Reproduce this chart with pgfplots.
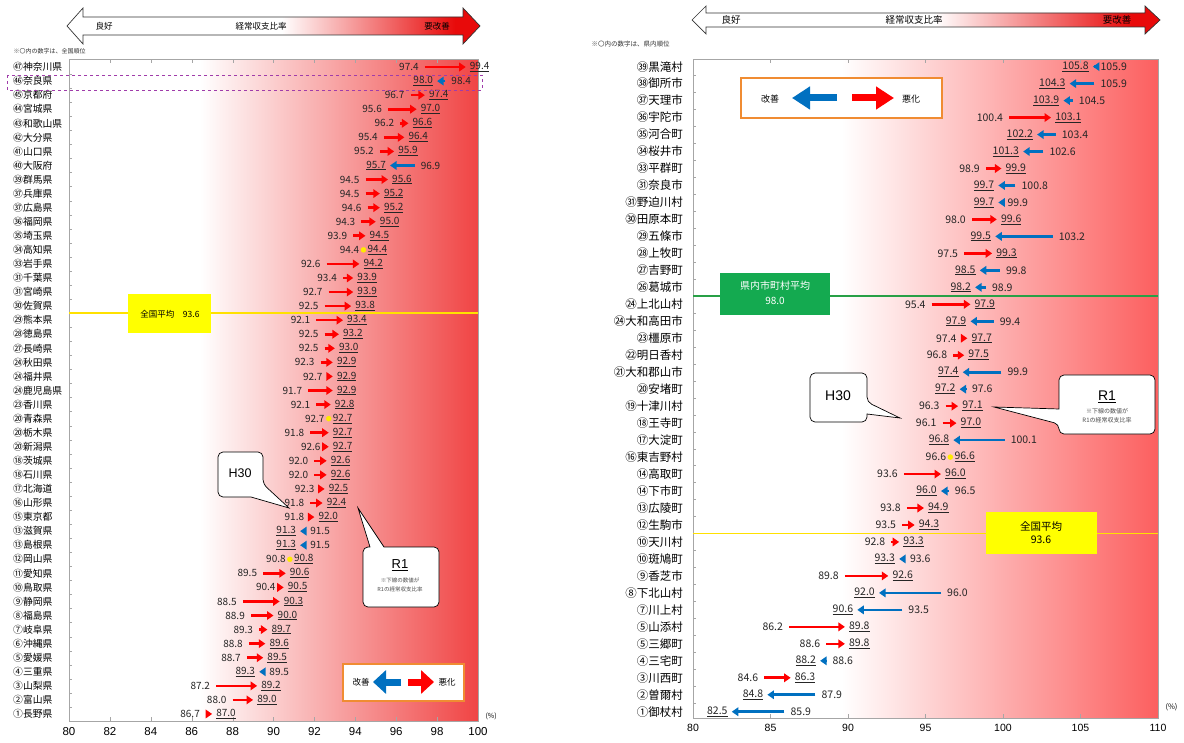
\documentclass[border=0pt]{standalone}
\usepackage{fontspec}
\setmainfont{Noto Sans CJK JP}
\newfontfamily\arial{Liberation Sans}
\usepackage{pgfplots}
\pgfplotsset{compat=1.18}
\usepackage{pgfplotstable}
\usetikzlibrary{arrows.meta}

\definecolor{arrred}{RGB}{255,0,0}
\definecolor{arrblue}{RGB}{0,112,192}
\definecolor{bgredL}{RGB}{240,68,68}
\definecolor{bgredR}{RGB}{252,95,95}
\definecolor{hdrred}{RGB}{232,10,10}
\definecolor{legorange}{RGB}{240,140,50}
\definecolor{avgyellow}{RGB}{255,255,0}
\definecolor{avgline}{RGB}{255,225,0}
\definecolor{avggreen}{RGB}{20,170,80}
\definecolor{avggreenline}{RGB}{40,160,70}
\definecolor{dotyellow}{RGB}{255,235,0}
\definecolor{dashviolet}{RGB}{160,60,170}

\pgfdeclarehorizontalshading{bgL}{100bp}{color(0bp)=(white); color(41bp)=(white); color(75bp)=(bgredL); color(100bp)=(bgredL)}
\pgfdeclarehorizontalshading{bgR}{100bp}{color(0bp)=(white); color(41bp)=(white); color(75bp)=(bgredR); color(100bp)=(bgredR)}
\pgfdeclarehorizontalshading{hdr}{100bp}{color(0bp)=(white); color(51bp)=(white); color(72bp)=(hdrred); color(100bp)=(hdrred)}

\newcommand\fs[1]{\fontsize{#1}{#1}\selectfont}

% ---------- left panel (prefectures), row 1 = top ----------
\pgfplotstableread{
y h30 r1
1 97.4 99.4
3 96.7 97.4
4 95.6 97.0
5 96.2 96.6
6 95.4 96.4
7 95.2 95.9
9 94.5 95.6
10 94.5 95.2
11 94.6 95.2
12 94.3 95.0
13 93.9 94.5
15 92.6 94.2
16 93.4 93.9
17 92.7 93.9
18 92.5 93.8
19 92.1 93.4
20 92.5 93.2
21 92.5 93.0
22 92.3 92.9
23 92.7 92.9
24 91.7 92.9
25 92.1 92.8
27 91.8 92.7
28 92.6 92.7
29 92.0 92.6
30 92.0 92.6
31 92.3 92.5
32 91.8 92.4
33 91.8 92.0
37 89.5 90.6
38 90.4 90.5
39 88.5 90.3
40 88.9 90.0
41 89.3 89.7
42 88.8 89.6
43 88.7 89.5
45 87.2 89.2
46 88.0 89.0
47 86.7 87.0
}\upL
\pgfplotstableread{
y h30 r1
2 98.4 98.0
8 96.9 95.7
34 91.5 91.3
35 91.5 91.3
44 89.5 89.3
}\dnL
\pgfplotstableread{
y h30 r1
14 94.4 94.4
26 92.7 92.7
36 90.8 90.8
}\eqL

% ---------- right panel (municipalities) ----------
\pgfplotstableread{
y h30 r1
4 100.4 103.1
7 98.9 99.9
10 98.0 99.6
12 97.5 99.3
15 95.4 97.9
17 97.4 97.7
18 96.8 97.5
21 96.3 97.1
22 96.1 97.0
25 93.6 96.0
27 93.8 94.9
28 93.5 94.3
29 92.8 93.3
31 89.8 92.6
34 86.2 89.8
35 88.6 89.8
37 84.6 86.3
}\upR
\pgfplotstableread{
y h30 r1
1 105.9 105.8
2 105.9 104.3
3 104.5 103.9
5 103.4 102.2
6 102.6 101.3
8 100.8 99.7
9 99.9 99.7
11 103.2 99.5
13 99.8 98.5
14 98.9 98.2
16 99.4 97.9
19 99.9 97.4
20 97.6 97.2
23 100.1 96.8
26 96.5 96.0
30 93.6 93.3
32 96.0 92.0
33 93.5 90.6
36 88.6 88.2
38 87.9 84.8
39 85.9 82.5
}\dnR
\pgfplotstableread{
y h30 r1
24 96.6 96.6
}\eqR

\pgfplotsset{
  /pgf/number format/assume math mode=true,
  upq/.style={draw=arrred, line width=2.6pt, -{Triangle[length=6.5pt,width=8.5pt]}, no markers,
     quiver={u=\thisrow{r1}-\thisrow{h30}, v=0}},
  dnq/.style={draw=arrblue, line width=2.6pt, -{Triangle[length=6.5pt,width=8.5pt]}, no markers,
     quiver={u=\thisrow{r1}-\thisrow{h30}, v=0}},
  lab/.style={draw=none, no markers, point meta=x,
     nodes near coords={\pgfmathprintnumber[fixed,fixed zerofill,precision=1]{\pgfplotspointmeta}}},
  labu/.style={draw=none, no markers, point meta=x,
     nodes near coords={\underline{\pgfmathprintnumber[fixed,fixed zerofill,precision=1]{\pgfplotspointmeta}}}},
  toE/.style={every node near coord/.append style={anchor=east, xshift=-#1}},
  toW/.style={every node near coord/.append style={anchor=west, xshift=#1}},
  eqdot/.style={only marks, mark=*, mark size=2.5pt, draw=dotyellow, fill=dotyellow,
     mark options={draw=dotyellow, fill=dotyellow}},
  panel/.style={scale only axis, clip=false, y dir=reverse,
     axis line style={draw=gray!70, line width=0.8pt},
     tick align=inside, major tick length=4pt, minor tick length=3pt,
     major x tick style={gray!70},
     major y tick style={draw=none},
     minor y tick style={gray!70},
     ytick pos=left,
  },
}

\begin{document}
\begin{tikzpicture}
\path[use as bounding box] (0pt,0pt) rectangle (1184pt,-743pt);

% ================= LEFT AXIS =================
\begin{axis}[panel,
  at={(273.5pt,-390pt)}, anchor=center,
  width=409pt, height=662pt,
  axis background/.style={shade, shading=bgL},
  xmin=80, xmax=100, xtick={80,82,...,100},
  ymin=0.43, ymax=47.5,
  ytick={1,...,47},
  minor ytick={1.5,2.5,...,46.5},
  yticklabels={㊼神奈川県,㊻奈良県,㊺京都府,㊹宮城県,㊸和歌山県,㊷大分県,㊶山口県,㊵大阪府,㊴群馬県,㊲兵庫県,㊲広島県,㊱福岡県,㉟埼玉県,㉞高知県,㉝岩手県,㉛千葉県,㉛宮崎県,㉚佐賀県,㉙熊本県,㉘徳島県,㉗長崎県,㉔秋田県,㉔福井県,㉔鹿児島県,㉓香川県,⑳青森県,⑳栃木県,⑳新潟県,⑱茨城県,⑱石川県,⑰北海道,⑯山形県,⑮東京都,⑬滋賀県,⑬島根県,⑫岡山県,⑪愛知県,⑩鳥取県,⑨静岡県,⑧福島県,⑦岐阜県,⑥沖縄県,⑤愛媛県,④三重県,③山梨県,②富山県,①長野県},
  yticklabel style={font=\fs{9.8}, anchor=west, inner sep=0pt, xshift=-56pt},
  xticklabel style={font=\arial\fs{11.5}, yshift=-3pt},
  nodes near coords style={font=\fs{10}, inner sep=0pt, text=black!85},
]
\addplot[draw=avgline, line width=1.6pt, no markers] coordinates {(80,18.5) (100,18.5)};
\addplot[upq] table[x=h30, y=y] {\upL};
\addplot[dnq] table[x=h30, y=y] {\dnL};
\addplot[eqdot] table[x=h30, y=y] {\eqL};
\addplot[lab, toE=6pt] table[x=h30, y=y] {\upL};
\addplot[labu, toW=4pt] table[x=r1, y=y] {\upL};
\addplot[labu, toE=4pt] table[x=r1, y=y] {\dnL};
\addplot[lab, toW=6pt] table[x=h30, y=y] {\dnL};
\addplot[lab, toE=4pt] table[x=h30, y=y] {\eqL};
\addplot[labu, toW=4pt] table[x=r1, y=y] {\eqL};
\end{axis}

% ================= RIGHT AXIS =================
\begin{axis}[panel,
  at={(925.5pt,-388.5pt)}, anchor=center,
  width=465pt, height=659pt,
  axis background/.style={shade, shading=bgR},
  xmin=80, xmax=110, xtick={80,85,...,110},
  ymin=0.55, ymax=39.37,
  ytick={1,...,39},
  minor ytick={1.5,2.5,...,38.5},
  yticklabels={㊴黒滝村,㊳御所市,㊲天理市,㊱宇陀市,㉟河合町,㉞桜井市,㉝平群町,㉛奈良市,㉛野迫川村,㉚田原本町,㉙五條市,㉘上牧町,㉗吉野町,㉖葛城市,㉔上北山村,㉔大和高田市,㉓橿原市,㉒明日香村,㉑大和郡山市,⑳安堵町,⑲十津川村,⑱王寺町,⑰大淀町,⑯東吉野村,⑭高取町,⑭下市町,⑬広陵町,⑫生駒市,⑩天川村,⑩斑鳩町,⑨香芝市,⑧下北山村,⑦川上村,⑤山添村,⑤三郷町,④三宅町,③川西町,②曽爾村,①御杖村},
  yticklabel style={font=\fs{11.5}, anchor=east, inner sep=0pt, xshift=-10pt},
  xticklabel style={font=\arial\fs{10.5}, yshift=-3pt},
  nodes near coords style={font=\fs{10.5}, inner sep=0pt, text=black!85},
]
\addplot[draw=avggreenline, line width=1.6pt, no markers] coordinates {(80,14.5) (110,14.5)};
\addplot[draw=avgline, line width=1.8pt, no markers] coordinates {(80,28.5) (110,28.5)};
\addplot[upq] table[x=h30, y=y] {\upR};
\addplot[dnq] table[x=h30, y=y] {\dnR};
\addplot[eqdot] table[x=h30, y=y] {\eqR};
\addplot[lab, toE=6pt] table[x=h30, y=y] {\upR};
\addplot[labu, toW=4pt] table[x=r1, y=y] {\upR};
\addplot[labu, toE=4pt] table[x=r1, y=y] {\dnR};
\addplot[lab, toW=6pt] table[x=h30, y=y] {\dnR};
\addplot[lab, toE=4pt] table[x=h30, y=y] {\eqR};
\addplot[labu, toW=4pt] table[x=r1, y=y] {\eqR};
\end{axis}

% ================= annotations (pixel coordinates) =================
\begin{scope}[x=1pt, y=-1pt]
% header arrows
\shadedraw[shading=hdr, draw=black!80, line width=0.7pt]
  (67,26) -- (83,8) -- (83,17) -- (463,17) -- (463,8) -- (480,26) -- (463,44) -- (463,35) -- (83,35) -- (83,44) -- cycle;
\node[font=\fs{8.5}] at (104,26) {良好};
\node[font=\fs{8.5}] at (261,26) {経常収支比率};
\node[font=\fs{8.5}] at (437,26) {要改善};
\node[font=\fs{6}, anchor=west, text=black!80] at (10,51) {※〇内の数字は、全国順位};

\shadedraw[shading=hdr, draw=black!80, line width=0.7pt]
  (692,20) -- (706,6) -- (706,13) -- (1145,13) -- (1145,6) -- (1160,20) -- (1145,34) -- (1145,27) -- (706,27) -- (706,34) -- cycle;
\node[font=\fs{9.5}] at (731,20) {良好};
\node[font=\fs{9.5}] at (914,20) {経常収支比率};
\node[font=\fs{9.5}] at (1117,20) {要改善};
\node[font=\fs{6.5}, anchor=west, text=black!80] at (588,44) {※〇内の数字は、県内順位};

% dashed highlight of Nara prefecture
\draw[dashviolet, dashed, line width=0.8pt] (7,75) rectangle (482,90);

% national / prefectural averages
\fill[avgyellow] (128,294) rectangle (211,333);
\node[font=\fs{8.5}] at (170,314) {全国平均\quad 93.6};
\fill[avggreen] (720,273) rectangle (830,315);
\node[font=\fs{10}, text=white] at (775,286) {県内市町村平均};
\node[font=\fs{10}, text=white] at (775,301) {98.0};
\fill[avgyellow] (986,512) rectangle (1097,554);
\node[font=\fs{10.5}] at (1041,527) {全国平均};
\node[font=\fs{10.5}] at (1041,540) {93.6};

% callouts left
\draw[fill=white, line width=0.7pt, rounded corners=5pt]
  (218,452) -- (263,452) -- (263,484) [sharp corners] -- (289,508) -- (251,497) [rounded corners=5pt] -- (218,497) -- cycle;
\node[font=\arial\fs{12.5}] at (240,473) {H30};
\draw[fill=white, line width=0.7pt, rounded corners=5pt]
  (363,547) [sharp corners] -- (370,547) -- (358,508) -- (384,547) [rounded corners=5pt] -- (439,547) -- (439,607) -- (363,607) -- cycle;
\node[font=\arial\fs{13}] at (400,565) {\underline{R1}};
\node[font=\fs{5.5}, text=black!70] at (400,580) {※下線の数値が};
\node[font=\fs{5.5}, text=black!70] at (400,589) {R1の経常収支比率};

% callouts right
\draw[fill=white, line width=0.7pt, rounded corners=5pt]
  (810,373) -- (867,373) -- (867,402) [sharp corners] -- (900,418) -- (867,414) [rounded corners=5pt] -- (867,422) -- (810,422) -- cycle;
\node[font=\arial\fs{14}] at (838,396) {H30};
\draw[fill=white, line width=0.7pt, rounded corners=5pt]
  (1059,375) -- (1155,375) -- (1155,434) -- (1059,434) -- (1059,424) [sharp corners] -- (994,407) -- (1059,409) [rounded corners=5pt] -- cycle;
\node[font=\arial\fs{14}] at (1107,397) {\underline{R1}};
\node[font=\fs{6}, text=black!70] at (1107,411) {※下線の数値が};
\node[font=\fs{6}, text=black!70] at (1107,420) {R1の経常収支比率};

% legends
\draw[legorange, line width=1.6pt, fill=white] (343,664) rectangle (464,701);
\node[font=\fs{8.5}] at (361,682) {改善};
\draw[arrblue, line width=7pt, -{Triangle[length=13pt,width=23pt]}] (401,682) -- (373,682);
\draw[arrred, line width=7pt, -{Triangle[length=13pt,width=23pt]}] (408,682) -- (434,682);
\node[font=\fs{8.5}] at (447,682) {悪化};

\draw[legorange, line width=1.6pt, fill=white] (741,78) rectangle (942,118);
\node[font=\fs{9}] at (770,99) {改善};
\draw[arrblue, line width=7pt, -{Triangle[length=18pt,width=22pt]}] (837,98) -- (792,98);
\draw[arrred, line width=7pt, -{Triangle[length=18pt,width=22pt]}] (852,98) -- (894,98);
\node[font=\fs{9}] at (911,99) {悪化};

% units
\node[font=\fs{7}, anchor=west] at (482,716) {(\%)};
\node[font=\fs{7.5}, anchor=west] at (1162,707) {(\%)};
\end{scope}
\end{tikzpicture}
\end{document}
